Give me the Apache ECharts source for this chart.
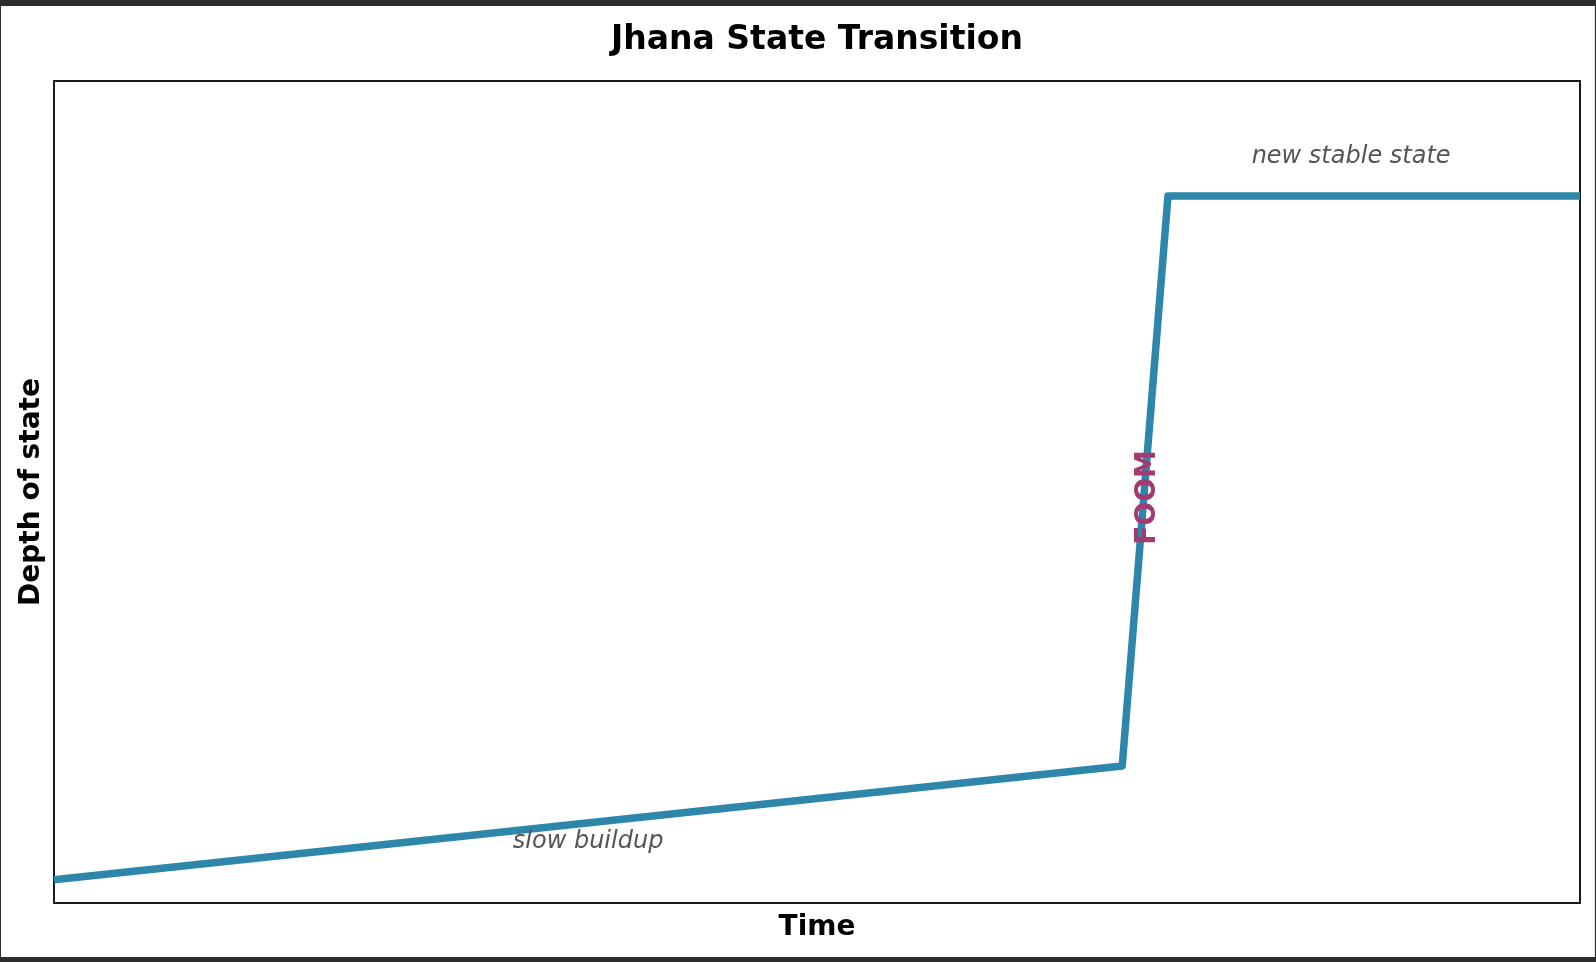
<!DOCTYPE html>
<html>
<head>
<meta charset="utf-8">
<script src="https://cdn.jsdelivr.net/npm/echarts@6/dist/echarts.min.js"></script>
<style>
  html, body { margin: 0; padding: 0; background: #2d2d2d; width: 1596px; height: 962px; overflow: hidden; }
  #paper { position: absolute; left: 1px; top: 6px; width: 1594px; height: 951px; background: #ffffff; border-right: 1px solid #e6e6e6; box-sizing: border-box; }
  #chart { position: absolute; left: 0; top: 0; width: 1596px; height: 962px; }
</style>
</head>
<body>
<div id="paper"></div>
<div id="chart"></div>
<script>
// Data
const timePoints  = [0, 70, 73, 100];
const depthValues = [0.034, 0.2, 1.032, 1.032];

const annotationTexts = ['slow buildup', 'FOOM', 'new stable state'];
const annotationX     = [35, 71.7, 85];
const annotationY     = [0.09, 0.592, 1.089];

const titleText = 'Jhana State Transition';
const xName = 'Time';
const yName = 'Depth of state';

const FONT = '"DejaVu Sans", "Liberation Sans", sans-serif';

const lineData = timePoints.map((t, i) => [t, depthValues[i]]);

const annStyles = [
  { color: '#555555', fontStyle: 'italic', fontWeight: 'normal', fontSize: 24, rotate: 0 },
  { color: '#A23B72', fontStyle: 'normal', fontWeight: 'bold', fontSize: 28, rotate: 90 },
  { color: '#555555', fontStyle: 'italic', fontWeight: 'normal', fontSize: 24, rotate: 0 }
];

const annData = annotationTexts.map((txt, i) => ({
  value: [annotationX[i], annotationY[i]],
  label: Object.assign({
    show: true,
    formatter: txt,
    position: 'inside',
    align: 'center',
    verticalAlign: 'middle',
    textBorderWidth: 0,
    textBorderColor: 'transparent',
    fontFamily: FONT
  }, annStyles[i])
}));

const chart = echarts.init(document.getElementById('chart'), null, { renderer: 'canvas' });
chart.setOption({
  backgroundColor: 'transparent',
  animation: false,
  title: {
    text: titleText,
    left: 812,
    textAlign: 'center',
    top: 19,
    textStyle: { fontFamily: FONT, fontWeight: 'bold', fontSize: 33, color: '#000' }
  },
  grid: {
    left: 54, top: 81, right: 16, bottom: 59,
    outerBoundsMode: 'none',
    containLabel: false,
    show: true, borderColor: '#1a1a1a', borderWidth: 2, backgroundColor: '#fff'
  },
  xAxis: {
    type: 'value', min: 0, max: 100,
    axisLine: { show: false }, axisTick: { show: false }, axisLabel: { show: false }, splitLine: { show: false },
    name: xName, nameLocation: 'middle', nameGap: 11,
    nameTextStyle: { fontFamily: FONT, fontWeight: 'bold', fontSize: 28, color: '#000' }
  },
  yAxis: {
    type: 'value', min: 0, max: 1.2,
    axisLine: { show: false }, axisTick: { show: false }, axisLabel: { show: false }, splitLine: { show: false },
    name: yName, nameLocation: 'middle', nameGap: 8, nameRotate: 90,
    nameTextStyle: { fontFamily: FONT, fontWeight: 'bold', fontSize: 28, color: '#000' }
  },
  series: [
    {
      type: 'line',
      data: lineData,
      symbol: 'none',
      clip: true,
      lineStyle: { color: '#2E86AB', width: 7.5, join: 'round', cap: 'butt' },
      z: 2
    },
    {
      type: 'scatter',
      data: annData,
      symbolSize: 0,
      itemStyle: { opacity: 1 },
      silent: true,
      z: 3
    }
  ]
});
</script>
</body>
</html>
